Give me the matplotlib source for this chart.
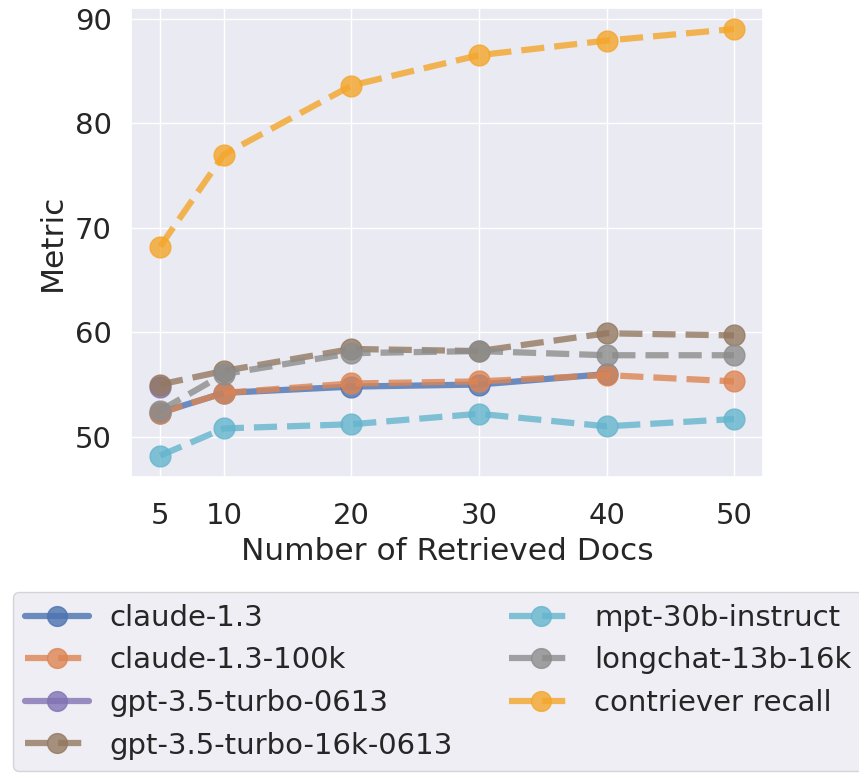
import matplotlib
matplotlib.use("Agg")
import matplotlib.pyplot as plt
import seaborn as sns

sns.set_theme(style="darkgrid")
plt.rcParams['font.family'] = ['DejaVu Sans']

docs = [5, 10, 20, 30, 40, 50]

claude_13_x = [5, 10, 20, 30, 40]
claude_13 = [52.3, 54.2, 54.8, 55.0, 56.0]
claude_13_100k = [52.3, 54.2, 55.1, 55.3, 55.9, 55.3]
gpt35_x = [5]
gpt35 = [54.8]
gpt35_16k = [55.0, 56.3, 58.4, 58.2, 59.9, 59.7]
mpt_30b = [48.2, 50.8, 51.2, 52.2, 51.0, 51.7]
longchat = [52.5, 56.0, 58.0, 58.2, 57.8, 57.8]
contriever = [68.2, 77.0, 83.6, 86.5, 87.9, 89.0]

c_blue = '#4C72B0'
c_orange = '#DD8452'
c_purple = '#8172B3'
c_brown = '#937860'
c_lblue = '#64B5CD'
c_gray = '#8C8C8C'
c_gold = '#F4A62A'

fig = plt.figure(figsize=(8.59, 7.73), dpi=100)
ax = fig.add_axes([0.153, 0.383, 0.735, 0.607])

kw = dict(marker='o', markersize=15, linewidth=4.5, alpha=0.8)
ax.plot(claude_13_x, claude_13, color=c_blue, linestyle='-', label='claude-1.3', **kw)
ax.plot(docs, claude_13_100k, color=c_orange, linestyle='--', label='claude-1.3-100k', **kw)
ax.plot(gpt35_x, gpt35, color=c_purple, linestyle='-', label='gpt-3.5-turbo-0613', **kw)
ax.plot(docs, gpt35_16k, color=c_brown, linestyle='--', label='gpt-3.5-turbo-16k-0613', **kw)
ax.plot(docs, mpt_30b, color=c_lblue, linestyle='--', label='mpt-30b-instruct', **kw)
ax.plot(docs, longchat, color=c_gray, linestyle='--', label='longchat-13b-16k', **kw)
ax.plot(docs, contriever, color=c_gold, linestyle='--', label='contriever recall', **kw)

ax.set_xticks(docs)
ax.set_yticks([50, 60, 70, 80, 90])
ax.tick_params(axis='both', labelsize=21, colors='#262626')
ax.tick_params(axis='x', pad=12)
ax.tick_params(axis='y', pad=8)
ax.set_xlabel('Number of Retrieved Docs', fontsize=22.5, color='#262626', labelpad=5)
ax.set_ylabel('Metric', fontsize=22.5, color='#262626', labelpad=6)

leg = fig.legend(loc='upper left', bbox_to_anchor=(0.015, 0.234), ncol=2,
                 fontsize=21, frameon=True, handlelength=2.2, handletextpad=0.7,
                 columnspacing=1.95, labelspacing=0.5, borderaxespad=0.0,
                 borderpad=0.4, markerscale=0.95)

fig.savefig('out.png', dpi=100)
